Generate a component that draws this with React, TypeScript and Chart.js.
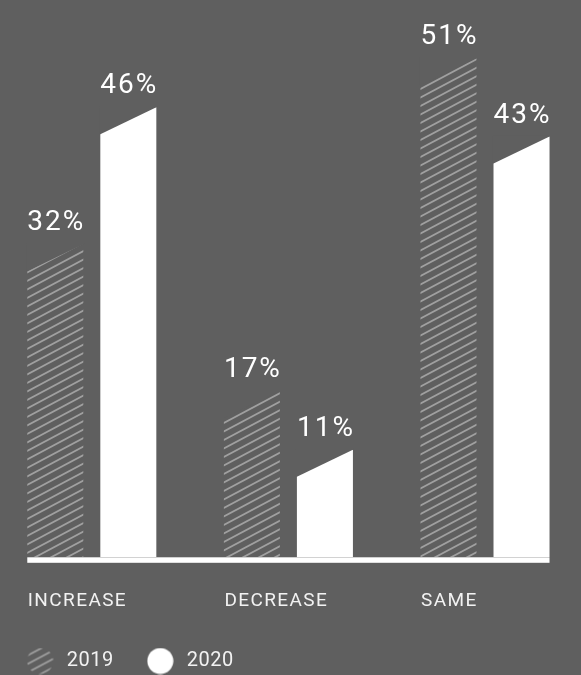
import React, { useEffect, useRef } from 'react';
import { Chart, registerables } from 'chart.js';

Chart.register(...registerables);

// ---- data ----
const categories = ['INCREASE', 'DECREASE', 'SAME'];
const seriesNames = ['2019', '2020'];
const values2019 = [32, 17, 51];
const values2020 = [46, 11, 43];
const valueSuffix = '%';
const yMin = 0;
const yMax = 56;

// ---- style ----
const BG = '#5f5f5f';
const HATCH = '#a0a0a0';
const WHITE = '#ffffff';
const TEXT = '#f2f2f2';
const FONT = 'Roboto, "Noto Sans", sans-serif';
const SLANT = 27;

function makeHatchCanvas(): HTMLCanvasElement {
  const c = document.createElement('canvas');
  c.width = 32;
  c.height = 17;
  const g = c.getContext('2d')!;
  g.strokeStyle = HATCH;
  g.lineWidth = 1.8;
  for (let k = -3; k <= 4; k++) {
    const off = k * 8.5;
    g.beginPath();
    g.moveTo(-2, 17 + off + 2 * 17 / 32);
    g.lineTo(34, off - 2 * 17 / 32);
    g.stroke();
  }
  return c;
}

function makeLegendImage(fill: string | null, hatch: boolean): HTMLCanvasElement {
  const c = document.createElement('canvas');
  c.width = 27;
  c.height = 27;
  const g = c.getContext('2d')!;
  g.beginPath();
  g.arc(13.5, 13.5, 13, 0, Math.PI * 2);
  if (hatch) {
    g.save();
    g.clip();
    g.fillStyle = g.createPattern(makeHatchCanvas(), 'repeat')!;
    g.fillRect(0, 0, 27, 27);
    g.restore();
  } else {
    g.fillStyle = fill as string;
    g.fill();
  }
  return c;
}

const customPlugin = {
  id: 'customDraw',
  beforeDraw(chart: any) {
    chart.ctx.letterSpacing = '0.5px';
  },
  afterDatasetsDraw(chart: any) {
    const ctx: CanvasRenderingContext2D = chart.ctx;
    const metas = chart.data.datasets.map((_: any, i: number) => chart.getDatasetMeta(i));
    ctx.save();
    // slanted tops
    ctx.fillStyle = BG;
    metas.forEach((meta: any) =>
      meta.data.forEach((bar: any) => {
        const { x, y, width } = bar.getProps(['x', 'y', 'width'], true);
        const l = x - width / 2;
        const r = x + width / 2;
        ctx.beginPath();
        ctx.moveTo(r + 1, y - 1);
        ctx.lineTo(r, y);
        ctx.lineTo(l, y + SLANT);
        ctx.lineTo(l - 1, y + SLANT);
        ctx.lineTo(l - 1, y - 1);
        ctx.closePath();
        ctx.fill();
      })
    );
    // baseline
    const first = metas[0].data[0];
    const lastMeta = metas[metas.length - 1];
    const last = lastMeta.data[lastMeta.data.length - 1];
    const x0 = first.x - first.width / 2;
    const x1 = last.x + last.width / 2;
    ctx.fillStyle = WHITE;
    ctx.fillRect(x0, chart.chartArea.bottom, x1 - x0, 5.5);
    // value labels
    ctx.letterSpacing = '2px';
    ctx.font = `28px ${FONT}`;
    ctx.textAlign = 'center';
    ctx.textBaseline = 'alphabetic';
    ctx.fillStyle = WHITE;
    metas.forEach((meta: any, di: number) =>
      meta.data.forEach((bar: any, i: number) => {
        const v = chart.data.datasets[di].data[i];
        ctx.fillText(`${v}${valueSuffix}`, bar.x + 1, bar.y - 14);
      })
    );
    ctx.restore();
    ctx.letterSpacing = '1.4px';
  },
};

export default function App() {
  const ref = useRef<HTMLCanvasElement>(null);

  useEffect(() => {
    const canvas = ref.current!;
    const ctx = canvas.getContext('2d')!;
    const hatchPattern = ctx.createPattern(makeHatchCanvas(), 'repeat')!;
    const legendImgs = [makeLegendImage(null, true), makeLegendImage(WHITE, false)];

    const chart = new Chart(canvas, {
      type: 'bar',
      data: {
        labels: categories,
        datasets: [
          {
            label: seriesNames[0],
            data: values2019,
            backgroundColor: hatchPattern as any,
            borderWidth: 0,
            categoryPercentage: 0.743,
            barPercentage: 0.767,
          },
          {
            label: seriesNames[1],
            data: values2020,
            backgroundColor: WHITE,
            borderWidth: 0,
            categoryPercentage: 0.743,
            barPercentage: 0.767,
          },
        ],
      },
      options: {
        responsive: false,
        animation: false,
        events: [],
        layout: { padding: { left: 13.5, right: 16.7, top: 9.3, bottom: -6 } },
        scales: {
          x: {
            grid: { display: false, drawTicks: false },
            border: { display: false },
            ticks: {
              color: TEXT,
              font: { family: FONT, size: 19 },
              padding: 33,
              align: 'start',
              labelOffset: -64,
              z: 1,
              maxRotation: 0,
              autoSkip: false,
            },
            afterFit: (s: any) => {
              s.height = 63.7;
            },
          },
          y: { display: false, min: yMin, max: yMax },
        },
        plugins: {
          tooltip: { enabled: false },
          legend: {
            position: 'bottom',
            align: 'start',
            labels: {
              usePointStyle: true,
              pointStyleWidth: 33.2,
              padding: 30,
              color: TEXT,
              font: { family: FONT, size: 20 },
              generateLabels: (c: any) => {
                const items = (Chart.defaults.plugins.legend.labels as any).generateLabels(c);
                items.forEach((it: any, i: number) => {
                  it.pointStyle = legendImgs[i];
                  it.fontColor = TEXT;
                });
                return items;
              },
            },
          },
        },
      },
      plugins: [customPlugin],
    });
    return () => chart.destroy();
  }, []);

  return (
    <div
      style={{
        position: 'fixed',
        left: 0,
        top: 0,
        width: 581,
        height: 675,
        overflow: 'hidden',
        background: BG,
      }}
    >
      <canvas
        ref={ref}
        width={620}
        height={675}
        style={{ position: 'absolute', left: -20, top: 0, width: 620, height: 675 }}
      />
    </div>
  );
}
